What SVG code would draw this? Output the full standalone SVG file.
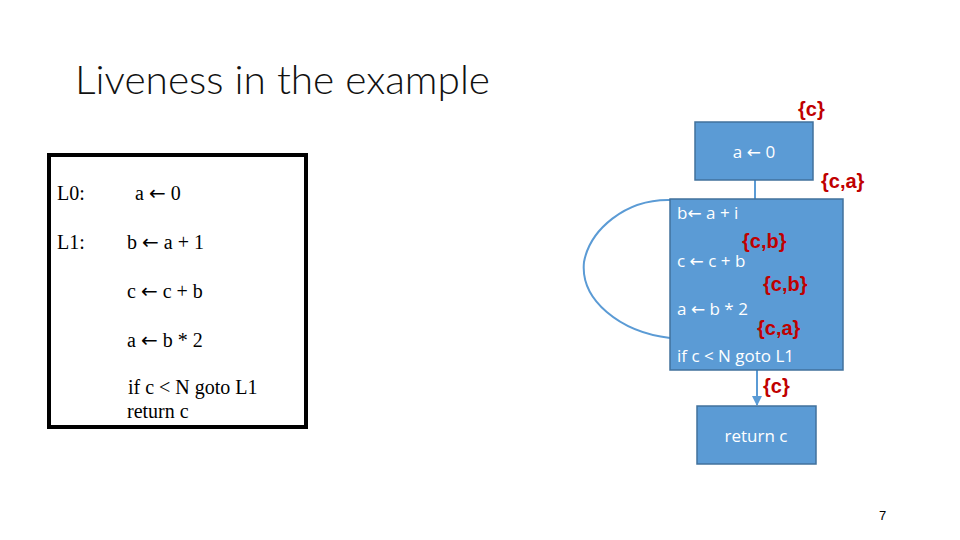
<svg xmlns="http://www.w3.org/2000/svg" width="960" height="540" viewBox="0 0 960 540">
<defs>
<style>
.title{font-family:"Lato","Open Sans","Liberation Sans",sans-serif;font-weight:300;font-size:40px;fill:#111}
.code{font-family:"Liberation Serif","Times New Roman",serif;font-size:20px;fill:#000}
.ar{font-family:"DejaVu Sans",sans-serif}
.node rect{fill:#5B9BD5;stroke:#41719C;stroke-width:1.5}
.node text{font-family:"Open Sans","DejaVu Sans",sans-serif;font-size:17px;fill:#fff}
.live{font-family:"Liberation Sans",Arial,sans-serif;font-weight:bold;font-size:20px;fill:#C00000}
.conn{fill:none;stroke:#5B9BD5;stroke-width:2}
</style>
<marker id="arr" viewBox="0 0 10 10" refX="9" refY="5" markerWidth="5" markerHeight="5" orient="auto">
<path d="M0,0 L10,5 L0,10 z" fill="#5B9BD5"/>
</marker>
</defs>
<rect width="960" height="540" fill="#fff"/>
<text class="title" x="75" y="94" textLength="415" lengthAdjust="spacingAndGlyphs">Liveness in the example</text>

<g id="code-listing">
<rect x="49" y="155" width="257" height="272" fill="none" stroke="#000" stroke-width="4"/>
<text class="code" x="57" y="200">L0:</text>
<text class="code" x="135" y="200">a <tspan class="ar">←</tspan> 0</text>
<text class="code" x="57" y="249">L1:</text>
<text class="code" x="127" y="249">b <tspan class="ar">←</tspan> a + 1</text>
<text class="code" x="127" y="298">c <tspan class="ar">←</tspan> c + b</text>
<text class="code" x="127" y="347">a <tspan class="ar">←</tspan> b * 2</text>
<text class="code" x="128" y="394">if c &lt; N goto L1</text>
<text class="code" x="127" y="418">return c</text>
</g>

<g id="connectors">
<line class="conn" x1="755" y1="180" x2="755" y2="199"/>
<path class="conn" d="M670,200 C625,199 590,230 584,262 C580,300 620,332 670,338"/>
<line class="conn" x1="757" y1="370" x2="757" y2="405" marker-end="url(#arr)"/>
</g>

<g id="n0" class="node">
<rect x="695" y="122" width="118" height="58"/>
<text x="754" y="158" text-anchor="middle">a <tspan class="ar">←</tspan> 0</text>
</g>
<g id="n1" class="node">
<rect x="670" y="199" width="173" height="171"/>
<text x="677" y="219">b<tspan class="ar">←</tspan> a + i</text>
<text x="677" y="267">c <tspan class="ar">←</tspan> c + b</text>
<text x="677" y="315">a <tspan class="ar">←</tspan> b * 2</text>
<text x="677" y="362">if c &lt; N goto L1</text>
</g>
<g id="n2" class="node">
<rect x="697" y="406" width="119" height="58"/>
<text x="756" y="442" text-anchor="middle">return c</text>
</g>

<g id="liveness">
<text class="live" x="798" y="116">{c}</text>
<text class="live" x="821" y="188">{c,a}</text>
<text class="live" x="742" y="248">{c,b}</text>
<text class="live" x="763" y="291">{c,b}</text>
<text class="live" x="757" y="335">{c,a}</text>
<text class="live" x="763" y="393">{c}</text>
</g>

<text x="879" y="520" font-family="Liberation Sans,Arial,sans-serif" font-size="13" fill="#000">7</text>
</svg>
